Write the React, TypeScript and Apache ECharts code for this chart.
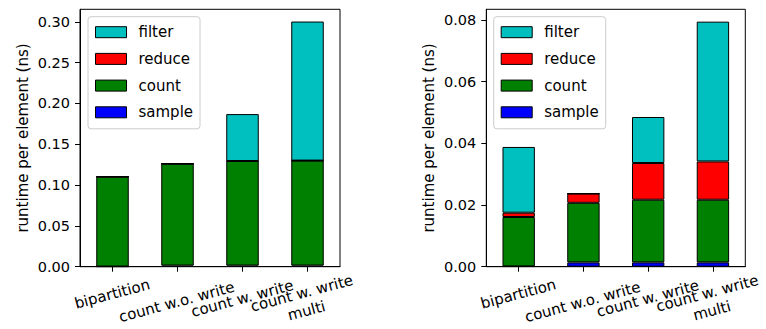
import React, { useEffect, useRef } from "react";
import * as echarts from "echarts";

const categories = ["bipartition", "count w.o. write", "count w. write", "count w. write\nmulti"];
const seriesNames = ["sample", "count", "reduce", "filter"];
const legendOrder = ["filter", "reduce", "count", "sample"];

// left panel (stacked segments)
const leftSample = [0.0002, 0.0014, 0.0014, 0.0014];
const leftCount = [0.1101, 0.1248, 0.1281, 0.1286];
const leftReduce = [0, 0, 0, 0];
const leftFilter = [0, 0, 0.0575, 0.1704];

// right panel (stacked segments)
const rightSample = [0.0001, 0.0014, 0.0014, 0.0014];
const rightCount = [0.016, 0.0193, 0.0203, 0.0203];
const rightReduce = [0.0014, 0.003, 0.0119, 0.0124];
const rightFilter = [0.0213, 0, 0.0149, 0.0453];

const leftTicks = [0, 0.05, 0.1, 0.15, 0.2, 0.25, 0.3];
const rightTicks = [0, 0.02, 0.04, 0.06, 0.08];
const leftMax = 0.3154;
const rightMax = 0.0834;

const colors: Record<string, string> = {
  filter: "#00BFBF",
  reduce: "#FF0000",
  count: "#008000",
  sample: "#0000FF",
};

const FONT = "DejaVu Sans";

// rotated tick-label centre offsets (matplotlib-style rotated bbox alignment)
const labelDx = [-0.3, -0.8, -0.3, -3.3];
const labelDy = [27.3, 35.3, 31.8, 35.3];

function makeXAxis(gridIndex: number) {
  return {
    type: "category",
    gridIndex,
    data: categories,
    axisLine: { show: true, lineStyle: { color: "#000", width: 1 } },
    axisTick: { show: true, alignWithLabel: true, length: 5, lineStyle: { color: "#000", width: 1 } },
    axisLabel: { show: false, interval: 0 },
    splitLine: { show: false },
  };
}

function makeYAxis(gridIndex: number, max: number, ticks: number[], gap: number) {
  return {
    type: "value",
    gridIndex,
    min: 0,
    max,
    name: "runtime per element (ns)",
    nameLocation: "middle",
    nameGap: gap,
    nameMoveOverlap: false,
    nameTextStyle: { fontFamily: FONT, fontSize: 15, color: "#000" },
    axisLine: { show: true, lineStyle: { color: "#000", width: 1 } },
    axisTick: { show: true, length: 5, customValues: ticks, lineStyle: { color: "#000", width: 1 } },
    axisLabel: {
      customValues: ticks,
      margin: 10,
      fontFamily: FONT,
      fontSize: 14.5,
      color: "#000",
      formatter: (v: number) => v.toFixed(2),
    },
    splitLine: { show: false },
  };
}

function makeSeries(gridIdx: number, stack: string, data: Record<string, number[]>) {
  return seriesNames.map((name) => ({
    type: "bar",
    name,
    stack,
    xAxisIndex: gridIdx,
    yAxisIndex: gridIdx,
    barWidth: "50%",
    data: data[name],
    itemStyle: { color: colors[name], borderColor: "#000", borderWidth: 1 },
  }));
}

function makeLegend(left: number) {
  return {
    data: legendOrder,
    orient: "vertical",
    left,
    top: 16.7,
    padding: [8, 7, 9, 7],
    itemWidth: 31,
    itemHeight: 11,
    itemGap: 11.7,
    icon: "rect",
    selectedMode: false,
    backgroundColor: "rgba(255,255,255,0.8)",
    borderColor: "#cccccc",
    borderWidth: 1,
    borderRadius: 3,
    itemStyle: { borderColor: "#000", borderWidth: 1 },
    textStyle: { fontFamily: FONT, fontSize: 15, color: "#000", lineHeight: 11, padding: [0, 0, 0, 7] },
  };
}

export default function App() {
  const ref = useRef<HTMLDivElement>(null);
  useEffect(() => {
    if (!ref.current) return;
    const chart = echarts.init(ref.current, undefined, { renderer: "svg" });
    chart.setOption({
      animation: false,
      backgroundColor: "#fff",
      grid: [
        { left: 80, top: 9.3, width: 260, height: 257.4, show: true, borderColor: "#000", borderWidth: 1, backgroundColor: "transparent", containLabel: false, outerBoundsMode: "none" },
        { left: 486.3, top: 9.3, width: 259, height: 257.4, show: true, borderColor: "#000", borderWidth: 1, backgroundColor: "transparent", containLabel: false, outerBoundsMode: "none" },
      ],
      legend: [makeLegend(88), makeLegend(493.7)],
      xAxis: [makeXAxis(0), makeXAxis(1)],
      yAxis: [makeYAxis(0, leftMax, leftTicks, 50), makeYAxis(1, rightMax, rightTicks, 50)],
      series: [
        ...makeSeries(0, "L", { sample: leftSample, count: leftCount, reduce: leftReduce, filter: leftFilter }),
        ...makeSeries(1, "R", { sample: rightSample, count: rightCount, reduce: rightReduce, filter: rightFilter }),
      ],
    });

    const labels: any[] = [];
    [0, 1].forEach((gi) => {
      const y0 = chart.convertToPixel({ yAxisIndex: gi } as any, 0) as number;
      categories.forEach((c, i) => {
        const x = chart.convertToPixel({ xAxisIndex: gi } as any, c) as number;
        labels.push({
          type: "text",
          x: x + labelDx[i],
          y: y0 + labelDy[i],
          rotation: (15 * Math.PI) / 180,
          silent: true,
          style: {
            text: c,
            x: 0,
            y: 0,
            align: "center",
            verticalAlign: "middle",
            fontFamily: FONT,
            fontSize: 15,
            lineHeight: 18,
            fill: "#000",
          },
        });
      });
    });
    chart.setOption({ graphic: labels });
    return () => chart.dispose();
  }, []);
  return <div ref={ref} style={{ position: "fixed", left: 0, top: 0, width: 766, height: 329 }} />;
}
